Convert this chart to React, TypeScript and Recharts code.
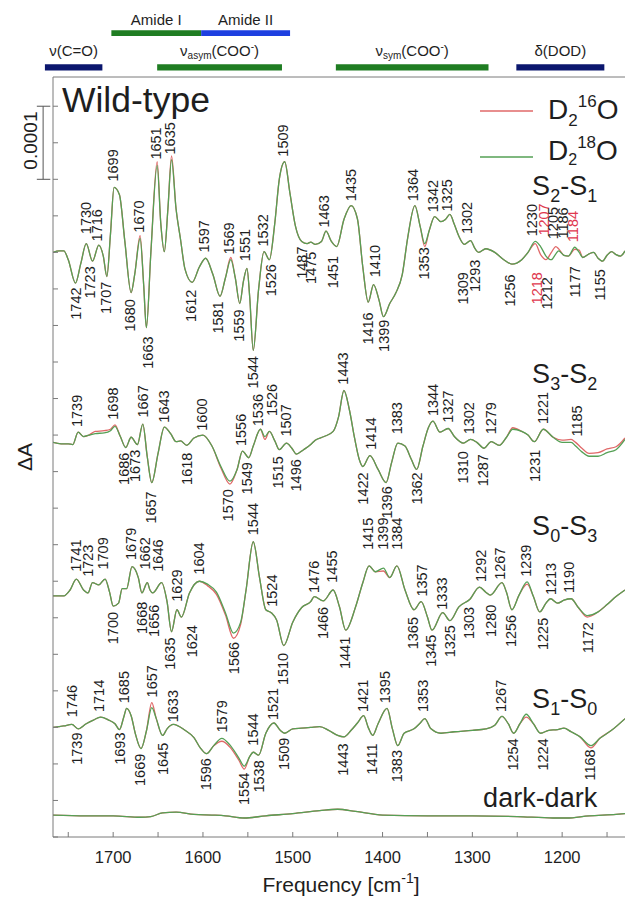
import React from 'react';
import {
  ComposedChart, Line, Scatter, XAxis, YAxis, ReferenceArea, ReferenceLine, ReferenceDot, Legend,
} from 'recharts';

const FONT = '"Liberation Sans", Arial, Helvetica, sans-serif';
const RED = '#e06868';
const GREEN = '#55a055';
const NAVY = '#0b176e';
const BAND_GREEN = '#1f7d22';
const BLUE = '#1d3fe0';
const LABEL_RED = '#e0384e';
const TXT = '#1e1e1e';
const AXIS = '#7a7a7a';

const X_DOMAIN = [1130, 1767];
const Y_DOMAIN = [0, 104];
const X_TICKS = [1750, 1700, 1650, 1600, 1550, 1500, 1450, 1400, 1350, 1300, 1250, 1200, 1150];
const Y_TICKS = [0, 5, 10, 15, 20, 25, 30, 35, 40, 45, 50, 55, 60, 65, 70, 75, 80, 85, 90, 95, 100];

// vertical offsets of each difference spectrum (units of 1e-5 ΔA)
const OFF_S21 = 80;
const OFF_S32 = 54;
const OFF_S03 = 33;
const OFF_S10 = 15;
const OFF_DARK = 3;

// [frequency, D2 18O value, D2 16O value (if different)]  units 1e-5 ΔA
const S21 = [
  [1767, 0], [1760, 0.2], [1755, 0.2], [1750, -1.0], [1742, -4.2], [1736, -1.5], [1730, 1.2], [1723, -1.2],
  [1716, 1.0], [1711, -0.5], [1707, -3.3], [1703, 2.5], [1699, 8.9], [1693, 7.9], [1687, 1.5], [1680, -5.5],
  [1676, -3.0], [1670, 1.9, 2.3], [1666, -4.5], [1663, -10.3], [1658, 0], [1651, 11.9, 12.4], [1647, 4.0],
  [1643, 0.1], [1639, 6.0], [1635, 12.7, 13.2], [1630, 6.0], [1625, 1.8], [1620, -2.3], [1612, -4.1],
  [1604, -2.0], [1597, -0.8], [1589, -3.0], [1581, -6.0], [1575, -3.5], [1569, -1.0, -0.7], [1564, -3.5],
  [1559, -7.0], [1555, -4.0], [1551, -2.2], [1548, -6.0], [1544, -13.4], [1538, -5.0], [1532, 0.1],
  [1526, -1.0], [1520, 4.0], [1515, 10.0], [1509, 12.4], [1503, 8.0], [1497, 3.6], [1490, 1.5], [1484, 1.2],
  [1480, 1.4], [1475, 1.1], [1468, 1.5], [1463, 2.9], [1457, 1.5], [1451, 0.8], [1443, 4.5], [1435, 6.4],
  [1428, 4.6], [1422, -2.0], [1416, -6.8], [1410, -4.4], [1404, -6.5], [1399, -8.8], [1392, -7.0],
  [1385, -5.5], [1378, -3.0], [1372, 2.0], [1364, 6.4], [1358, 3.5], [1353, 1.2, 0.8], [1348, 3.0],
  [1342, 4.9], [1335, 4.2], [1330, 4.5], [1325, 5.2], [1320, 3.8], [1315, 2.2], [1309, 1.1], [1302, 1.6],
  [1297, 0.5], [1293, 0], [1285, 0.5], [1275, 0], [1265, -1.0], [1256, -1.6], [1245, -1.0], [1238, 0],
  [1230, 1.5, 1.2], [1224, 0.8, -0.3], [1218, -0.5, -1.0], [1212, -1.0, 0.0], [1207, -0.2, 0.8],
  [1204, 0.2, 0.5], [1198, -0.4], [1193, -0.5], [1186, 0.7, 0.4], [1181, 0.0, 0.3], [1177, -0.7],
  [1170, -0.2], [1165, 0], [1160, -0.8], [1155, -1.2], [1150, -0.4], [1145, 0.1], [1140, -0.3],
  [1135, -0.5], [1130, 0.2],
];

const S32 = [
  [1767, 0], [1758, -0.2], [1750, -0.2], [1745, -0.3], [1739, 1.4], [1733, 0.8], [1727, 1.0], [1720, 1.2, 1.5],
  [1710, 1.3, 1.6], [1703, 1.6, 1.8], [1698, 2.2, 2.4], [1692, 0.8], [1686, -0.7], [1680, 0.7], [1673, -0.3],
  [1667, 2.5], [1662, -2.0], [1657, -5.5], [1650, -1.5], [1643, 2.1], [1636, 1.2], [1630, 0.1], [1625, 0.2],
  [1618, -0.4], [1610, 0.6], [1600, 1.0], [1590, -0.5], [1580, -3.3, -3.5], [1570, -5.3, -5.7], [1562, -3.7],
  [1556, -1.2], [1549, -2.1], [1544, -0.5], [1536, 1.8], [1531, 0.8, 0.4], [1526, 1.5], [1520, 0.2],
  [1515, -1.0], [1507, -0.1], [1501, -0.8], [1496, -1.6], [1488, -1.0], [1480, -0.3], [1475, 0.3],
  [1465, 0.8], [1455, 1.5], [1449, 3.5], [1443, 7.1], [1437, 4.5], [1431, 0.5], [1426, -2.3], [1422, -3.3],
  [1414, -1.8], [1405, -3.7], [1396, -5.5], [1390, -2.8], [1383, -0.1], [1375, -0.5], [1368, -2.3],
  [1362, -3.7], [1355, -0.5], [1349, 2.0], [1344, 2.9], [1336, 1.4], [1327, 1.9], [1320, 0.8], [1310, -0.1],
  [1302, 0.4], [1295, 0], [1287, -0.8], [1279, 0.1], [1270, -0.4], [1262, 0.7], [1255, 1.8, 2.0],
  [1245, 1.5], [1238, 1.0], [1231, 0.1], [1221, 1.8], [1210, 0.7], [1200, 0, 0.3], [1190, 0, 0.4],
  [1185, -0.5, 0], [1178, -1.3, -0.8], [1170, -1.9, -1.5], [1160, -1.9, -1.4], [1150, -1.4, -0.9],
  [1140, -1.0, -0.6], [1130, 0.4, 0.6],
];

const S03 = [
  [1767, 0], [1755, 0], [1748, 0.8], [1741, 2.3], [1733, 0.8], [1728, 0.4], [1723, 1.8], [1716, 1.5],
  [1709, 2.3], [1704, 0.5], [1700, -1.4], [1694, -1.0], [1690, 1.0], [1685, 1.0], [1679, 4.0], [1672, 2.5],
  [1668, 0.4], [1662, 1.8], [1659, 0.8], [1656, 0.4], [1646, 1.8], [1640, -0.8], [1635, -4.9], [1629, -1.9],
  [1624, -2.9], [1615, 0.4], [1604, 2.0], [1595, 1.6, 1.4], [1585, 0.5, 0.2], [1575, -2.3, -2.6],
  [1566, -5.1, -5.8], [1558, -3.6, -3.9], [1552, 0.8], [1544, 7.4], [1537, 2.5], [1530, -1.9], [1524, -2.3],
  [1518, -3.3], [1510, -6.8], [1500, -3.6], [1490, -1.6], [1480, -0.8], [1476, -0.1], [1466, -0.7],
  [1455, 0.8], [1448, -1.5], [1441, -4.7], [1430, -1.5], [1422, 1.8], [1415, 4.1], [1408, 3.3],
  [1399, 3.8, 3.4], [1392, 2.5], [1384, 4.1], [1375, 0.8], [1365, -1.9], [1357, -0.8], [1350, -2.9],
  [1345, -4.7], [1333, -2.3], [1325, -3.4], [1315, -1.5], [1303, -0.5], [1292, 1.2], [1285, 0.5],
  [1280, 0.1], [1267, 1.8], [1262, 0.5], [1256, -1.9], [1248, 0.1], [1239, 1.9, 1.6], [1232, -0.1],
  [1225, -2.2], [1218, -1.0], [1213, -0.4], [1205, -1.0], [1198, -0.6], [1190, -0.4], [1182, -1.6],
  [1172, -2.7, -2.9], [1160, -2.2], [1150, -1.2], [1140, -0.1], [1130, 0.8],
];

const S10 = [
  [1767, 0], [1755, 0.2], [1746, 0.4], [1739, -0.2], [1730, 0.5], [1722, 1.0], [1714, 1.4], [1705, 1.0],
  [1698, 0.5], [1693, -0.3], [1688, 1.5], [1685, 2.6], [1680, 1.6], [1675, -1.0], [1669, -2.9], [1663, -0.5],
  [1657, 2.7, 3.4], [1652, 1.2], [1645, -1.1], [1640, -0.2], [1633, 0.4], [1620, -0.4], [1610, -1.4],
  [1603, -2.8], [1596, -3.6], [1588, -2.5], [1579, -1.5, -1.9], [1570, -2.4, -2.7], [1560, -4.2, -4.5],
  [1554, -5.3, -5.7], [1548, -4.0], [1544, -3.4], [1538, -3.8], [1530, -0.8], [1521, 0.6], [1514, -0.4],
  [1509, -0.8], [1500, -0.2], [1490, -0.1], [1480, 0], [1470, 0.1], [1460, -0.4], [1450, -1.1],
  [1443, -1.3], [1435, -0.4], [1428, 0.6], [1421, 1.6], [1416, 0], [1411, -1.1], [1405, 0.5], [1395, 2.6],
  [1389, -0.2], [1383, -2.5], [1376, -0.8], [1365, -0.2], [1358, 0.6], [1353, 1.2], [1346, -0.2],
  [1335, -0.8], [1320, -0.6], [1300, -0.4], [1285, -0.2], [1275, 0.3], [1267, 1.5], [1260, 0.5],
  [1254, -0.8], [1247, 0.5], [1240, 1.8, 1.4], [1232, 0.5], [1224, -0.8], [1215, -0.4], [1205, -0.3],
  [1198, -0.1], [1190, -0.6], [1180, -1.3], [1168, -2.5, -2.8], [1158, -1.5], [1145, -0.4], [1130, 1.2],
];

const DARK = [
  [1767, 0], [1730, -0.1], [1700, -0.1], [1670, -0.3], [1658, -0.2], [1645, 0.3], [1630, 0.4], [1610, 0.1],
  [1590, 0], [1575, -0.1], [1554, -0.4], [1530, -0.1], [1500, 0.2], [1470, 0.6], [1450, 0.8], [1430, 0.5],
  [1400, 0], [1350, -0.1], [1300, -0.1], [1250, -0.2], [1210, -0.4], [1195, -0.4], [1170, -0.1],
  [1140, 0.1], [1130, 0.2],
];

// peak labels: [text, label x (cm-1), anchor value, 'u' above / 'd' below, red?]
const L21 = [
  ['1730', 1731, 2.5, 'u'], ['1716', 1718, 1.5, 'u'], ['1699', 1700, 9.7, 'u'], ['1670', 1672, 2.7, 'u'],
  ['1651', 1653, 12.7, 'u'], ['1635', 1637, 13.4, 'u'], ['1597', 1599, 0, 'u'], ['1569', 1571, -0.3, 'u'],
  ['1551', 1553, -1.2, 'u'], ['1532', 1533, 0.8, 'u'], ['1509', 1511, 13.1, 'u'], ['1463', 1465, 3.4, 'u'],
  ['1435', 1435, 7.0, 'u'], ['1410', 1409, -3.4, 'u'], ['1364', 1366, 7.0, 'u'], ['1342', 1344, 5.5, 'u'],
  ['1325', 1328, 5.6, 'u'], ['1302', 1306, 2.5, 'u'], ['1230', 1234, 2.2, 'u'], ['1207', 1221, 2.3, 'u', 1],
  ['1205', 1210, 1.8, 'u'], ['1186', 1199, 1.9, 'u'], ['1184', 1188, 1.4, 'u', 1],
  ['1742', 1742, -4.8, 'd'], ['1723', 1726, -1.9, 'd'], ['1707', 1708, -4.0, 'd'], ['1680', 1681, -6.4, 'd'],
  ['1663', 1662, -11.5, 'd'], ['1612', 1613, -5.1, 'd'], ['1581', 1583, -6.7, 'd'], ['1559', 1560, -7.8, 'd'],
  ['1544', 1544, -14.2, 'd'], ['1526', 1525, -1.6, 'd'], ['1487', 1490, 0.8, 'd'], ['1475', 1480, 0.1, 'd'],
  ['1451', 1455, -0.5, 'd'], ['1416', 1416, -8.2, 'd'], ['1399', 1399, -9.2, 'd'], ['1353', 1354, 0.7, 'd'],
  ['1309', 1311, -2.7, 'd'], ['1293', 1297, -1.0, 'd'], ['1256', 1258, -3.0, 'd'], ['1218', 1228, -2.7, 'd', 1],
  ['1212', 1217, -3.4, 'd'], ['1177', 1186, -1.9, 'd'], ['1155', 1158, -2.3, 'd'],
];

const L32 = [
  ['1739', 1740, 2.1, 'u'], ['1698', 1700, 3.1, 'u'], ['1667', 1667, 3.4, 'u'], ['1643', 1644, 2.7, 'u'],
  ['1600', 1601, 1.6, 'u'], ['1556', 1558, -0.5, 'u'], ['1536', 1539, 2.2, 'u'], ['1526', 1523, 3.6, 'u'],
  ['1507', 1508, 0.8, 'u'], ['1443', 1444, 7.9, 'u'], ['1414', 1413, -1.0, 'u'], ['1383', 1384, 1.1, 'u'],
  ['1344', 1344, 3.6, 'u'], ['1327', 1327, 2.7, 'u'], ['1302', 1304, 1.1, 'u'], ['1279', 1280, 1.1, 'u'],
  ['1221', 1221, 2.5, 'u'], ['1185', 1184, 0.8, 'u'],
  ['1686', 1688, -1.4, 'd'], ['1673', 1676, -1.0, 'd'], ['1657', 1658, -6.7, 'd'], ['1618', 1618, -1.4, 'd'],
  ['1570', 1572, -6.4, 'd'], ['1549', 1551, -2.7, 'd'], ['1515', 1517, -1.9, 'd'], ['1496', 1497, -2.3, 'd'],
  ['1422', 1422, -4.1, 'd'], ['1396', 1395, -6.0, 'd'], ['1362', 1362, -4.1, 'd'], ['1310', 1311, -1.2, 'd'],
  ['1287', 1288, -1.6, 'd'], ['1231', 1230, -1.0, 'd'],
];

const L03 = [
  ['1741', 1742, 3.3, 'u'], ['1723', 1728, 2.6, 'u'], ['1709', 1712, 3.6, 'u'], ['1679', 1680, 4.9, 'u'],
  ['1662', 1665, 3.6, 'u'], ['1646', 1650, 3.3, 'u'], ['1629', 1629, -0.8, 'u'], ['1604', 1605, 2.9, 'u'],
  ['1544', 1545, 8.3, 'u'], ['1524', 1523, -1.5, 'u'], ['1476', 1477, 0.4, 'u'], ['1455', 1456, 1.8, 'u'],
  ['1415', 1416, 6.3, 'u'], ['1399', 1400, 6.3, 'u'], ['1384', 1384, 6.3, 'u'], ['1357', 1356, -0.1, 'u'],
  ['1333', 1334, -1.9, 'u'], ['1292', 1291, 1.9, 'u'], ['1267', 1269, 2.2, 'u'], ['1239', 1240, 2.6, 'u'],
  ['1213', 1213, 0.1, 'u'], ['1190', 1193, 0.4, 'u'],
  ['1700', 1700, -2.2, 'd'], ['1668', 1668, -0.8, 'd'], ['1656', 1655, -1.2, 'd'], ['1635', 1637, -5.7, 'd'],
  ['1624', 1612, -4.0, 'd'], ['1566', 1566, -6.3, 'd'], ['1510', 1511, -7.8, 'd'], ['1466', 1466, -1.5, 'd'],
  ['1441', 1442, -5.6, 'd'], ['1365', 1366, -2.9, 'd'], ['1345', 1346, -5.3, 'd'], ['1325', 1325, -4.0, 'd'],
  ['1303', 1304, -1.5, 'd'], ['1280', 1280, -1.2, 'd'], ['1256', 1257, -2.6, 'd'], ['1225', 1222, -3.0, 'd'],
  ['1172', 1171, -3.6, 'd'],
];

const L10 = [
  ['1746', 1746, 1.4, 'u'], ['1714', 1716, 2.1, 'u'], ['1685', 1688, 3.3, 'u'], ['1657', 1657, 4.1, 'u'],
  ['1633', 1634, 0.7, 'u'], ['1579', 1579, -0.7, 'u'], ['1544', 1545, -2.5, 'u'], ['1521', 1522, 1.0, 'u'],
  ['1421', 1422, 2.1, 'u'], ['1395', 1397, 3.3, 'u'], ['1353', 1355, 2.1, 'u'], ['1267', 1268, 2.1, 'u'],
  ['1739', 1740, -0.7, 'd'], ['1693', 1693, -0.7, 'd'], ['1669', 1670, -3.6, 'd'], ['1645', 1645, -2.1, 'd'],
  ['1596', 1597, -4.2, 'd'], ['1554', 1555, -6.2, 'd'], ['1538', 1538, -4.5, 'd'], ['1509', 1510, -1.4, 'd'],
  ['1443', 1444, -2.2, 'd'], ['1411', 1412, -2.2, 'd'], ['1383', 1384, -3.1, 'd'], ['1254', 1255, -1.5, 'd'],
  ['1224', 1222, -1.5, 'd'], ['1168', 1169, -3.0, 'd'],
];

// panel titles: [id, x (cm-1), y (1e-5 ΔA)]
const TITLES = [
  ['wild', 1757, 99.2], ['S21', 1161, 87.8], ['S32', 1161, 62.1], ['S03', 1161, 41.3], ['S10', 1161, 17.6],
  ['dark', 1161, 4.1],
];

// band assignments above the plot: [id, from, to, row, colour]
const BANDS = [
  ['nuCO', 1776, 1712, 'low', NAVY], ['nuAsym', 1651, 1512, 'low', BAND_GREEN],
  ['nuSym', 1452, 1282, 'low', BAND_GREEN], ['dDOD', 1251, 1153, 'low', NAVY],
  ['amideI', 1702, 1602, 'high', BAND_GREEN], ['amideII', 1602, 1503, 'high', BLUE],
];
const ROW_Y = { low: [104.9, 105.75], high: [109.6, 110.4] };

const toLine = (arr: any[], off: number, red: boolean) =>
  arr.map((p) => ({ x: p[0], y: off + (red && p.length > 2 ? p[2] : p[1]) }));
const toLabels = (arr: any[], off: number) =>
  arr.map((p) => ({ x: p[1], y: off + p[2], t: p[0], d: p[3], red: !!p[4] }));

const SERIES = [
  { id: 's21', pts: S21, off: OFF_S21 },
  { id: 's32', pts: S32, off: OFF_S32 },
  { id: 's03', pts: S03, off: OFF_S03 },
  { id: 's10', pts: S10, off: OFF_S10 },
  { id: 'dark', pts: DARK, off: OFF_DARK },
];
const LABEL_SETS = [
  { id: 'l21', pts: L21, off: OFF_S21 },
  { id: 'l32', pts: L32, off: OFF_S32 },
  { id: 'l03', pts: L03, off: OFF_S03 },
  { id: 'l10', pts: L10, off: OFF_S10 },
];

const PeakLabel = (props: any) => {
  const { cx, cy, payload } = props;
  if (cx == null || cy == null) return null;
  const up = payload.d === 'u';
  return (
    <text
      x={cx}
      y={cy}
      transform={`rotate(-90 ${cx} ${cy})`}
      textAnchor={up ? 'start' : 'end'}
      dy="0.36em"
      fontSize={14.5}
      fontFamily={FONT}
      fill={payload.red ? LABEL_RED : TXT}
    >
      {payload.t}
    </text>
  );
};

const StateText = ({ x, y, a, b }: any) => (
  <text x={x} y={y} textAnchor="end" fontSize={27} fontFamily={FONT} fill={TXT}>
    S<tspan fontSize={18} dy={7}>{a}</tspan>
    <tspan dy={-7}>-S</tspan>
    <tspan fontSize={18} dy={7}>{b}</tspan>
  </text>
);

const TitleShape = (props: any) => {
  const { cx, cy, payload } = props;
  if (cx == null) return null;
  switch (payload.id) {
    case 'wild':
      return <text x={cx} y={cy} fontSize={35.5} fontFamily={FONT} fill={TXT}>Wild-type</text>;
    case 'dark':
      return <text x={cx} y={cy} textAnchor="end" fontSize={27} fontFamily={FONT} fill={TXT}>dark-dark</text>;
    case 'S21': return <StateText x={cx} y={cy} a="2" b="1" />;
    case 'S32': return <StateText x={cx} y={cy} a="3" b="2" />;
    case 'S03': return <StateText x={cx} y={cy} a="0" b="3" />;
    case 'S10': return <StateText x={cx} y={cy} a="1" b="0" />;
    default: return null;
  }
};

const BandLabel = (props: any) => {
  const { viewBox, id } = props;
  if (!viewBox) return null;
  const cx = viewBox.x + viewBox.width / 2;
  const y = viewBox.y - 8;
  const common = { x: cx, y, textAnchor: 'middle' as const, fontSize: 15, fontFamily: FONT, fill: TXT };
  switch (id) {
    case 'nuCO': return <text {...common}>ν(C=O)</text>;
    case 'nuAsym':
      return (
        <text {...common}>ν<tspan fontSize={10} dy={3}>asym</tspan><tspan dy={-3}>(COO</tspan><tspan fontSize={10} dy={-6}>-</tspan><tspan dy={6}>)</tspan></text>
      );
    case 'nuSym':
      return (
        <text {...common}>ν<tspan fontSize={10} dy={3}>sym</tspan><tspan dy={-3}>(COO</tspan><tspan fontSize={10} dy={-6}>-</tspan><tspan dy={6}>)</tspan></text>
      );
    case 'dDOD': return <text {...common}>δ(DOD)</text>;
    case 'amideI': return <text {...common} y={viewBox.y - 5}>Amide I</text>;
    case 'amideII': return <text {...common} y={viewBox.y - 5}>Amide II</text>;
    default: return null;
  }
};

const ScaleLabel = (props: any) => {
  const { viewBox } = props;
  if (!viewBox) return null;
  const x = viewBox.x;
  const y = viewBox.y;
  return (
    <text x={x} y={y} transform={`rotate(-90 ${x} ${y})`} textAnchor="middle" dy="0.36em" fontSize={19} fontFamily={FONT} fill={TXT}>
      0.0001
    </text>
  );
};

const XTitle = (props: any) => {
  const vb = props.viewBox;
  if (!vb) return null;
  return (
    <text x={vb.x + vb.width / 2 + 2} y={vb.y + 55} textAnchor="middle" fontSize={21} fontFamily={FONT} fill={TXT}>
      Frequency [cm<tspan fontSize={14} dy={-9}>-1</tspan><tspan dy={9}>]</tspan>
    </text>
  );
};

const YTitle = (props: any) => {
  const vb = props.viewBox;
  if (!vb) return null;
  const x = 24;
  const y = vb.y + vb.height / 2;
  return (
    <text x={x} y={y} transform={`rotate(-90 ${x} ${y})`} textAnchor="middle" dy="0.36em" fontSize={21} fontFamily={FONT} fill={TXT}>
      ΔA
    </text>
  );
};

const LegendBox = () => (
  <svg width={147} height={90} style={{ display: 'block', overflow: 'visible' }}>
    <line x1={2} y1={19} x2={55} y2={19} stroke={RED} strokeWidth={1.4} />
    <text x={70} y={27} fontSize={28} fontFamily={FONT} fill={TXT}>
      D<tspan fontSize={17} dy={7}>2</tspan><tspan fontSize={17} dy={-19}>16</tspan><tspan dy={12}>O</tspan>
    </text>
    <line x1={2} y1={65} x2={55} y2={65} stroke={GREEN} strokeWidth={1.4} />
    <text x={70} y={68} fontSize={28} fontFamily={FONT} fill={TXT}>
      D<tspan fontSize={16} dy={5}>2</tspan><tspan fontSize={17} dy={-17}>18</tspan><tspan dy={12}>O</tspan>
    </text>
  </svg>
);

const LEGEND_PAYLOAD = [
  { value: 'D2 16O', type: 'line', color: RED },
  { value: 'D2 18O', type: 'line', color: GREEN },
];

export default function App() {
  return (
    <div style={{ position: 'absolute', left: 0, top: 0, width: 625, height: 906, background: '#fff' }}>
      <ComposedChart width={625} height={906} margin={{ top: 0, right: 0, bottom: 0, left: 0 }}>
        <XAxis
          dataKey="x"
          type="number"
          domain={X_DOMAIN}
          reversed
          ticks={X_TICKS}
          interval={0}
          allowDataOverflow
          height={69}
          tickSize={-5}
          tickMargin={19}
          tickFormatter={(v: number) => (v % 100 === 0 ? String(v) : '')}
          tick={{ fontSize: 16.5, fill: TXT, fontFamily: FONT }}
          stroke={AXIS}
          label={<XTitle />}
        />
        <XAxis
          xAxisId="top"
          orientation="top"
          type="number"
          domain={X_DOMAIN}
          reversed
          ticks={X_TICKS}
          interval={0}
          allowDataOverflow
          height={77}
          tickSize={-5}
          tickFormatter={() => ''}
          stroke={AXIS}
        />
        <YAxis
          dataKey="y"
          type="number"
          domain={Y_DOMAIN}
          ticks={Y_TICKS}
          interval={0}
          allowDataOverflow
          width={53}
          tickSize={-5}
          tickFormatter={() => ''}
          stroke={AXIS}
          label={<YTitle />}
        />

        {BANDS.map((b: any) => (
          <ReferenceArea
            key={b[0]}
            x1={b[1]}
            x2={b[2]}
            y1={(ROW_Y as any)[b[3]][0]}
            y2={(ROW_Y as any)[b[3]][1]}
            fill={b[4]}
            fillOpacity={1}
            stroke="none"
            ifOverflow="visible"
            label={<BandLabel id={b[0]} />}
          />
        ))}

        <ReferenceLine segment={[{ x: 1778, y: 100 }, { x: 1778, y: 90 }]} stroke="#555" ifOverflow="visible" />
        <ReferenceLine segment={[{ x: 1785, y: 100 }, { x: 1770, y: 100 }]} stroke="#555" ifOverflow="visible" />
        <ReferenceLine segment={[{ x: 1785, y: 90 }, { x: 1770, y: 90 }]} stroke="#555" ifOverflow="visible" />
        <ReferenceDot x={1792} y={95.3} r={0} fill="none" stroke="none" ifOverflow="visible" label={<ScaleLabel />} />

        {SERIES.map((s) => (
          <Line
            key={s.id + 'r'}
            data={toLine(s.pts, s.off, true)}
            dataKey="y"
            type="monotone"
            stroke={RED}
            strokeWidth={1.3}
            dot={false}
            activeDot={false}
            isAnimationActive={false}
            legendType="none"
          />
        ))}
        {SERIES.map((s) => (
          <Line
            key={s.id + 'g'}
            data={toLine(s.pts, s.off, false)}
            dataKey="y"
            type="monotone"
            stroke={GREEN}
            strokeWidth={1.3}
            dot={false}
            activeDot={false}
            isAnimationActive={false}
            legendType="none"
          />
        ))}

        {LABEL_SETS.map((l) => (
          <Scatter
            key={l.id}
            data={toLabels(l.pts, l.off)}
            dataKey="y"
            shape={PeakLabel}
            isAnimationActive={false}
            legendType="none"
          />
        ))}
        <Scatter
          data={TITLES.map((t) => ({ id: t[0], x: t[1], y: t[2] }))}
          dataKey="y"
          shape={TitleShape}
          isAnimationActive={false}
          legendType="none"
        />

        <Legend
          layout="vertical"
          align="center"
          verticalAlign="middle"
          payload={LEGEND_PAYLOAD as any}
          content={<LegendBox />}
          wrapperStyle={{ position: 'absolute', left: 478, top: 92, width: 147, height: 90 }}
        />
      </ComposedChart>
    </div>
  );
}
